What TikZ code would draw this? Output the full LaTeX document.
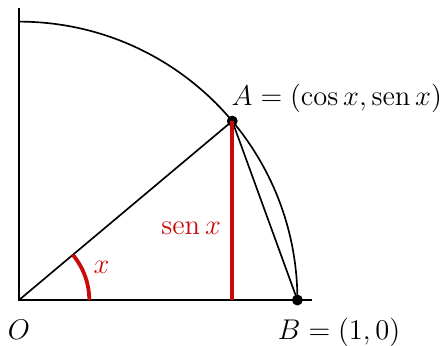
\documentclass[tikz,border=0pt]{standalone}
\usepackage{amsmath,amssymb}
\usetikzlibrary{arrows.meta,positioning,calc}
\definecolor{sinRed}{RGB}{200,10,10}
\tikzset{
  axis/.style={line width=0.8pt, draw=black},
  curve/.style={line width=0.7pt, draw=black},
  redline/.style={line width=1.6pt, draw=sinRed},
  dot/.style={circle, fill=black, inner sep=0pt, minimum size=4.6pt},
  lbl/.style={font=\large, inner sep=1pt}
}
\newcommand{\sen}{\operatorname{sen}}
\begin{document}
\begin{tikzpicture}
\useasboundingbox (-0.281,-0.666) rectangle (6.26,4.44);
\def\R{4.12}
\def\ang{40}
\coordinate (O) at (0,0);
\coordinate (xend) at (4.34,0);
\coordinate (yend) at (0,4.32);
\coordinate (top) at (0,\R);
\node[dot] (B) at (\R,0) {};
\node[dot] (A) at (\ang:\R) {};
\coordinate (foot) at (A |- O);
% axes and unit circle
\draw[axis] (yend) -- (O) -- (xend);
\draw[curve] (B.center) arc[start angle=0, end angle=90, radius=\R];
\draw[curve] (O) -- (A.center) -- (B.center);
% seno
\draw[redline] (A.center) -- node[lbl, pos=0.6, left=3pt, text=sinRed] {$\sen x$} (foot);
\draw[redline] (1.04,0) arc[start angle=0, end angle=\ang, radius=1.04];
\node[lbl, text=sinRed] (lblx) at (1.22,0.49) {$x$};
% labels
\node[lbl, anchor=south west] (lblA) at ($(A)+(-0.05,0.08)$) {$A=(\cos x,\sen x)$};
\node[lbl, anchor=north] (lblO) at (0,-0.26) {$O$};
\node[lbl, anchor=north west] (lblB) at ($(B)+(-0.33,-0.22)$) {$B=(1,0)$};
\end{tikzpicture}
\end{document}
